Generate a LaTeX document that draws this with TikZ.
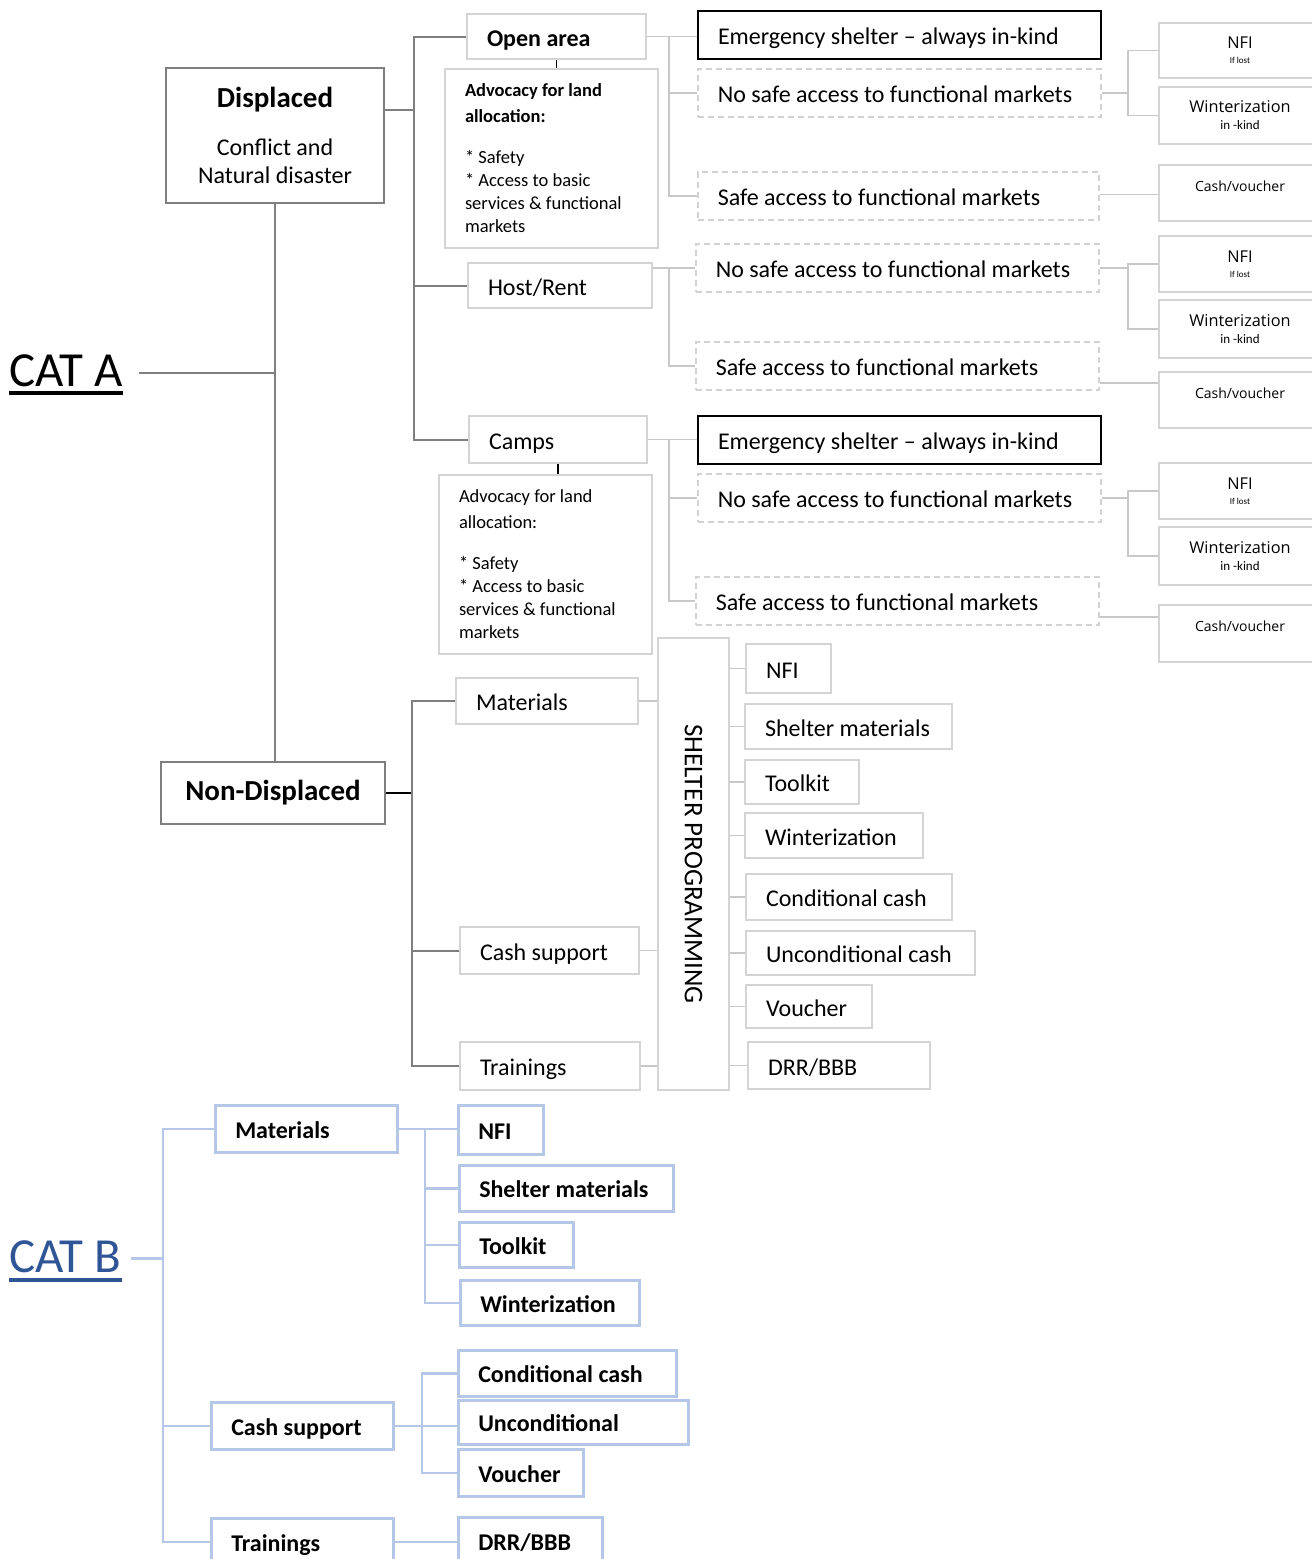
\documentclass[tikz,border=0pt]{standalone}
\usepackage{fontspec}
\setmainfont{Carlito}
\newfontfamily\opensans{Open Sans}
\usetikzlibrary{calc}

\definecolor{trunkgray}{RGB}{127,127,127}
\definecolor{boxgray}{RGB}{212,212,212}
\definecolor{linegray}{RGB}{200,200,200}
\definecolor{dashgray}{RGB}{210,210,210}
\definecolor{catblue}{RGB}{47,85,151}
\definecolor{paleblue}{RGB}{180,199,231}

\newcommand{\fsz}[2]{\fontsize{#1}{#2}\selectfont}

\tikzset{
  every node/.style={inner sep=0pt},
  bx/.style 2 args={anchor=north west, minimum width=#1, minimum height=#2,
    inner xsep=20, text height=22, text depth=3, font=\fsz{24}{29},
    execute at begin node={\hbox to \dimexpr#1pt-40pt\relax\bgroup},
    execute at end node={\hss\egroup}},
  mainbox/.style={draw=trunkgray, line width=2, anchor=north west, align=center, font=\fsz{24}{28}},
  advbox/.style={graybox, anchor=north west, minimum width=213, minimum height=179,
    text width=173, inner xsep=20, align=left, font=\fsz{18.5}{23},
    execute at begin node={\spaceskip=0pt\xspaceskip=0pt\relax}},
  sbox/.style={graybox, anchor=north west, minimum width=162, align=center, font=\opensans\fsz{16.3}{17}},
  graybox/.style={draw=boxgray, line width=2},
  blackbox/.style={draw=black, line width=2},
  dashbox/.style={draw=dashgray, line width=1.5, dash pattern=on 6pt off 4pt},
  bluebox/.style={draw=paleblue, line width=2.5, font=\bfseries\fsz{24}{29}},
  trunk/.style={draw=trunkgray, line width=2},
  conn/.style={draw=linegray, line width=1.6},
  bline/.style={draw=paleblue, line width=2.5}
}

\begin{document}
\begin{tikzpicture}[x=1pt, y=-1pt]
\useasboundingbox (0,0) rectangle (1312,1559);

% CAT A
\node[font=\fsz{49}{58}, anchor=base west] (cata) at (9,386) {CAT A};
\draw[line width=4] ([yshift=-7]cata.base west) -- ([yshift=-7]cata.base east);

\node[mainbox, minimum width=218, minimum height=135] (displaced) at (165,67)
  {{\bfseries\fsz{29}{35}Displaced}\\[20pt]Conflict and\\Natural disaster};
\node[mainbox, minimum width=224, minimum height=62, font=\bfseries\fsz{29}{35}] (nondisp) at (160,761) {Non-Displaced};

% settlement types
\node[bx={179}{45}, graybox, font=\bfseries\fsz{24}{29}] (openarea) at (466,13) {Open area};
\node[advbox] (advoc1) at (444,68)
  {\textbf{Advocacy for land}\\[3pt]\textbf{allocation:}\\[18pt]{}* Safety\\{}* Access to basic\\services \& functional\\markets};
\node[bx={184}{45}, graybox] (hostrent) at (467,262) {Host/Rent};
\node[bx={178}{47}, graybox] (camps) at (468,415) {Camps};
\node[advbox] (advoc2) at (438,474)
  {Advocacy for land\\[3pt]allocation:\\[18pt]{}* Safety\\{}* Access to basic\\services \& functional\\markets};

% market access
\node[bx={403}{48}, blackbox] (emerg1) at (697,10) {Emergency shelter – always in-kind};
\node[bx={403}{48}, dashbox] (nosafe1) at (697,68) {No safe access to functional markets};
\node[bx={401}{48}, dashbox] (safe1) at (697,171) {Safe access to functional markets};
\node[bx={403}{48}, dashbox] (nosafe2) at (695,243) {No safe access to functional markets};
\node[bx={403}{48}, dashbox] (safe2) at (695,341) {Safe access to functional markets};
\node[bx={403}{48}, blackbox] (emerg2) at (697,415) {Emergency shelter – always in-kind};
\node[bx={403}{48}, dashbox] (nosafe3) at (697,473) {No safe access to functional markets};
\node[bx={403}{48}, dashbox] (safe3) at (695,576) {Safe access to functional markets};

% modalities
\node[sbox, minimum height=55] (nfi1) at (1158,22) {NFI\\[-2pt]{\rmfamily\fsz{9}{10}If lost}};
\node[sbox, minimum height=57] (wint1) at (1158,86) {Winterization\\{\rmfamily\fsz{13}{14}in -kind}};
\node[sbox, minimum height=56, font=\opensans\fsz{14}{17}, text height=11, text depth=15] (cash1) at (1158,164) {Cash/voucher};
\node[sbox, minimum height=56] (nfi2) at (1158,235) {NFI\\[-2pt]{\rmfamily\fsz{9}{10}If lost}};
\node[sbox, minimum height=58] (wint2) at (1158,299) {Winterization\\{\rmfamily\fsz{13}{14}in -kind}};
\node[sbox, minimum height=56, font=\opensans\fsz{14}{17}, text height=11, text depth=15] (cash2) at (1158,371) {Cash/voucher};
\node[sbox, minimum height=56] (nfi3) at (1158,462) {NFI\\[-2pt]{\rmfamily\fsz{9}{10}If lost}};
\node[sbox, minimum height=58] (wint3) at (1158,526) {Winterization\\{\rmfamily\fsz{13}{14}in -kind}};
\node[sbox, minimum height=57, font=\opensans\fsz{14}{17}, text height=11, text depth=15] (cash3) at (1158,604) {Cash/voucher};

% non-displaced
\node[bx={182}{46}, graybox] (mat) at (455,677) {Materials};
\node[bx={179}{47}, graybox] (cashs) at (459,926) {Cash support};
\node[bx={180}{48}, graybox] (train) at (459,1041) {Trainings};
\node[graybox, anchor=north west, minimum width=71, minimum height=452,
  label={[rotate=-90, font=\fsz{27}{32}]center:SHELTER PROGRAMMING}] (prog) at (657,637) {};
\node[bx={85}{49}, graybox] (nfiP) at (745,643) {NFI};
\node[bx={207}{45}, graybox] (shelP) at (744,703) {Shelter materials};
\node[bx={114}{44}, graybox] (toolP) at (744,759) {Toolkit};
\node[bx={178}{45}, graybox] (wintP) at (744,812) {Winterization};
\node[bx={206}{46}, graybox] (condP) at (745,873) {Conditional cash};
\node[bx={229}{44}, graybox] (uncondP) at (745,930) {Unconditional cash};
\node[bx={126}{43}, graybox] (vouchP) at (745,984) {Voucher};
\node[bx={182}{47}, graybox] (drrP) at (747,1041) {DRR/BBB};

% CAT B
\node[font=\fsz{49}{58}, text=catblue, anchor=base west] (catb) at (9,1272) {CAT B};
\draw[catblue, line width=4] ([yshift=-8]catb.base west) -- ([yshift=-8]catb.base east);
\node[bx={182}{47}, bluebox] (matB) at (214,1104) {Materials};
\node[bx={182}{47}, bluebox] (cashB) at (210,1401) {Cash support};
\node[bx={182}{47}, bluebox] (trainB) at (210,1517) {Trainings};
\node[bx={85}{49}, bluebox] (nfiB) at (457,1104) {NFI};
\node[bx={214}{46}, bluebox] (shelB) at (458,1164) {Shelter materials};
\node[bx={114}{45}, bluebox] (toolB) at (458,1221) {Toolkit};
\node[bx={179}{45}, bluebox] (wintB) at (459,1279) {Winterization};
\node[bx={218}{46}, bluebox] (condB) at (457,1349) {Conditional cash};
\node[bx={230}{44}, bluebox] (uncondB) at (457,1399) {Unconditional};
\node[bx={125}{47}, bluebox] (vouchB) at (457,1448) {Voucher};
\node[bx={144}{47}, bluebox] (drrB) at (457,1516) {DRR/BBB};

% connectors CAT A
\coordinate (cataend) at ([xshift=16,yshift=-3]cata.east);
\draw[trunk] (cataend) -- (cataend -| displaced.south);
\draw[trunk] (displaced.south) -- (displaced.south |- nondisp.north);
\coordinate (busD) at (414,110);
\draw[trunk] (displaced.east |- busD) -- (busD);
\draw[trunk] (openarea.west) -| (busD) |- (camps.west);
\draw[trunk] (busD |- hostrent.west) -- (hostrent.west);
\draw[line width=1.3] (openarea.south) -- (openarea.south |- advoc1.north);
\draw[line width=1.3] (camps.south) -- (camps.south |- advoc2.north);

\coordinate (busO) at (669,0);
\coordinate (busN) at (1128,0);
\draw[conn] (openarea.east) -- (openarea.east -| emerg1.west);
\draw[conn] (busO |- openarea.east) |- (nosafe1.west);
\draw[conn] (busO |- openarea.east) |- (safe1.west);
\draw[conn] (hostrent.east |- nosafe2.west) -- (nosafe2.west);
\draw[conn] (busO |- nosafe2.west) |- (safe2.west);
\draw[conn] (camps.east) -- (camps.east -| emerg2.west);
\draw[conn] (busO |- camps.east) |- (nosafe3.west);
\draw[conn] (busO |- camps.east) |- (safe3.west);

\foreach \ns/\nf/\wi/\sa/\ca in {nosafe1/nfi1/wint1/safe1/cash1, nosafe2/nfi2/wint2/safe2/cash2, nosafe3/nfi3/wint3/safe3/cash3} {
  \draw[conn] (\ns.east) -- (\ns.east -| busN);
  \draw[conn] (\nf.west) -- (\nf.west -| busN) |- (\wi.west);
  \coordinate (mid) at ($(\sa.east)!.5!(\ca.west)$);
  \draw[conn] (\sa.east |- mid) -- (\ca.west |- mid);
}

% connectors non-displaced
\coordinate (busND) at (412,0);
\draw[line width=2] (nondisp.east) -- (nondisp.east -| busND);
\draw[trunk] (mat.west) -- (mat.west -| busND) |- (train.west);
\draw[trunk] (cashs.west) -- (cashs.west -| busND);
\foreach \n in {mat,cashs,train}
  \draw[conn] (\n.east) -- (\n.east -| prog.west);
\foreach \n in {nfiP,shelP,toolP,wintP,condP,uncondP,vouchP,drrP}
  \draw[conn] (prog.east |- \n.west) -- (\n.west);

% connectors CAT B
\coordinate (catbend) at ([xshift=9,yshift=-2]catb.east);
\coordinate (busB) at (163,0);
\coordinate (busBM) at (425,0);
\coordinate (busBC) at (422,0);
\draw[bline] (catbend) -- (catbend -| busB);
\draw[bline] (matB.west) -- (matB.west -| busB) |- (trainB.west);
\draw[bline] (cashB.west) -- (cashB.west -| busB);
\draw[bline] (matB.east) -- (matB.east -| nfiB.west);
\draw[bline] (busBM |- matB.east) |- (wintB.west);
\foreach \n in {shelB,toolB}
  \draw[bline] (busBM |- \n.west) -- (\n.west);
\draw[bline] (cashB.east) -- (cashB.east -| uncondB.west);
\draw[bline] (condB.west) -- (condB.west -| busBC) |- (vouchB.west);
\draw[bline] (trainB.east) -- (trainB.east -| drrB.west);
\end{tikzpicture}
\end{document}
